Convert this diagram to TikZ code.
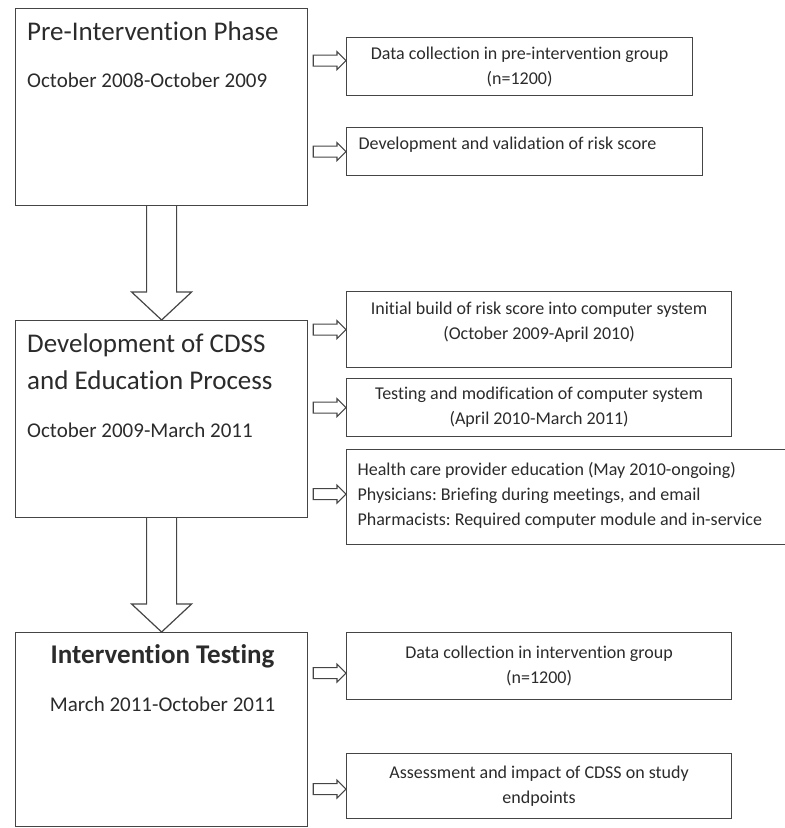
\documentclass[tikz,border=0pt]{standalone}
\usepackage{fontspec}
\setmainfont{Carlito}[Ligatures=NoCommon]
\usetikzlibrary{positioning,calc}

\definecolor{linegray}{HTML}{454545}
\definecolor{textgray}{HTML}{2B2B2B}

\tikzset{
  phasebox/.style={draw=linegray, line width=1.2pt, anchor=north west, inner sep=0pt, minimum width=292pt},
  stepbox/.style={draw=linegray, line width=1.2pt, anchor=north west, inner sep=0pt, align=center, text=textgray, font=\fontsize{18}{25}\selectfont},
  titletxt/.style={text=textgray, inner sep=0pt, font=\fontsize{27}{37}\selectfont},
  datetxt/.style={text=textgray, inner sep=0pt, font=\fontsize{21}{25}\selectfont},
  downarrow/.style={draw=linegray, line width=1.2pt,
    to path={let \p1=(\tikztostart), \p2=(\tikztotarget) in
      (\x1-15pt,\y1) -- (\x1-15pt,\y2+28pt) -- (\x1-30pt,\y2+28pt) -- (\x2,\y2)
      -- (\x1+30pt,\y2+28pt) -- (\x1+15pt,\y2+28pt) -- (\x1+15pt,\y1)}},
  rightarrow/.style={draw=linegray, line width=1.1pt,
    to path={let \p1=(\tikztostart), \p2=(\tikztotarget) in
      (\x1+5pt,\y2+5.5pt) -- (\x2-9pt,\y2+5.5pt) -- (\x2-9pt,\y2+9pt) -- (\x2,\y2)
      -- (\x2-9pt,\y2-9pt) -- (\x2-9pt,\y2-5.5pt) -- (\x1+5pt,\y2-5.5pt) -- cycle}}
}

\begin{document}
\frenchspacing
\begin{tikzpicture}[x=1pt, y=-1pt]
\useasboundingbox (0,0) rectangle (785,828);

% phases on the left
\node[phasebox, minimum height=197pt] (pre) at (15,8) {};
\node[phasebox, minimum height=197pt] (dev) at (15,320) {};
\node[phasebox, minimum height=194pt] (int) at (15,632) {};

\node[titletxt, anchor=base west] (pretitle) at ($(pre.north west)+(12,32)$) {Pre-Intervention Phase};
\node[datetxt, anchor=base west] (predate) at ($(pre.north west)+(12,79)$) {October 2008-October 2009};

\node[titletxt, anchor=base west] (devtitle) at ($(dev.north west)+(12,32)$) {Development of CDSS};
\node[titletxt, anchor=base west] (devtitleb) at ($(dev.north west)+(12,69)$) {and Education Process};
\node[datetxt, anchor=base west] (devdate) at ($(dev.north west)+(12,117)$) {October 2009-March 2011};

\node[titletxt, anchor=base, font=\fontsize{27}{30}\selectfont\bfseries] (inttitle) at ($(int.north)+(1,31)$) {Intervention Testing};
\node[datetxt, anchor=base] (intdate) at ($(int.north)+(1,79)$) {March 2011-October 2011};

% steps on the right
\node[stepbox, minimum width=346pt, minimum height=58pt] (precol) at (346,37)
  {Data collection in pre-intervention group\\(n=1200)};
\node[stepbox, text width=332pt, inner xsep=12pt, align=flush left, minimum height=48pt] (prerisk) at (346,127)
  {Development and validation of risk score\\[-9pt]~};

\node[stepbox, minimum width=385pt, minimum height=76pt] (devbuild) at (346,291)
  {Initial build of risk score into computer system\\(October 2009-April 2010)\\[-8pt]~};
\node[stepbox, minimum width=385pt, minimum height=58pt] (devtest) at (346,378)
  {Testing and modification of computer system\\(April 2010-March 2011)};
\node[stepbox, text width=432pt, inner xsep=11pt, align=flush left, minimum height=95pt] (devedu) at (346,449)
  {Health care provider education (May 2010-ongoing)\\Physicians: Briefing during meetings, and email\\Pharmacists: Required computer module and in-service\\[-19pt]~};

\node[stepbox, minimum width=385pt, minimum height=67pt] (intcol) at (346,632)
  {Data collection in intervention group\\(n=1200)};
\node[stepbox, minimum width=385pt, minimum height=65pt] (intimp) at (346,753)
  {Assessment and impact of CDSS on study\\endpoints};

% block arrows
\draw[downarrow] (pre.south) to (dev.north);
\draw[downarrow] (dev.south) to (int.north);

\draw[rightarrow] (pre.east) to ($(precol.west)+(0,-6)$);
\draw[rightarrow] (pre.east) to (prerisk.west);
\draw[rightarrow] (dev.east) to (devbuild.west);
\draw[rightarrow] (dev.east) to (devtest.west);
\draw[rightarrow] (dev.east) to ($(devedu.west)+(0,-3)$);
\draw[rightarrow] (int.east) to ($(intcol.west)+(0,7)$);
\draw[rightarrow] (int.east) to ($(intimp.west)+(0,3)$);
\end{tikzpicture}
\end{document}
